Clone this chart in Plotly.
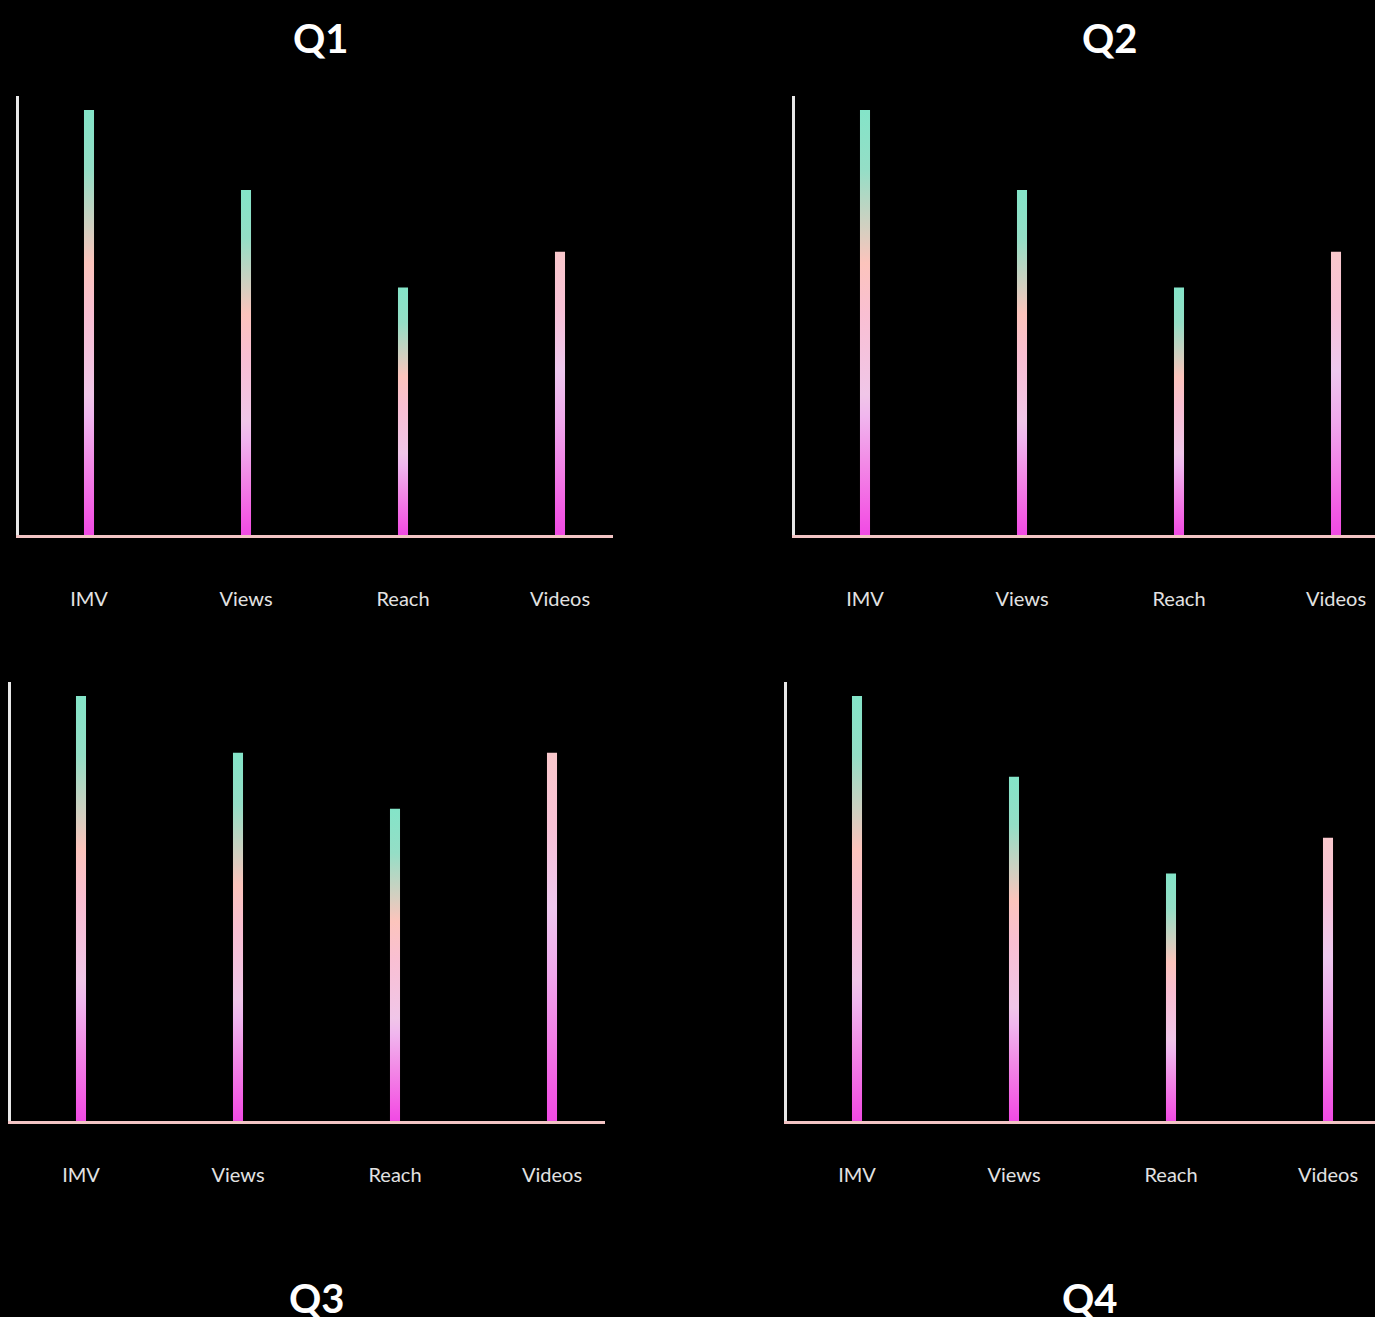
import plotly.graph_objects as go

# ---- data ----
categories = ["IMV", "Views", "Reach", "Videos"]
q1_values = [96.8, 78.6, 56.4, 64.5]
q2_values = [96.8, 78.6, 56.4, 64.5]
q3_values = [96.8, 83.9, 71.1, 83.9]
q4_values = [96.8, 78.4, 56.4, 64.5]
panel_titles = ["Q1", "Q2", "Q3", "Q4"]
panels = [q1_values, q2_values, q3_values, q4_values]

# ---- styles ----
W, H = 1375, 1317
BAR_HALF = 0.032
main_scale = [
    [0.00, "#f04ae4"], [0.05, "#f35ce4"], [0.17, "#f28ae6"], [0.28, "#f0b6ee"],
    [0.33, "#f0c6e8"], [0.52, "#f9bfd2"], [0.64, "#fcc4bc"], [0.72, "#d4cfc0"],
    [0.86, "#94dec6"], [1.00, "#84e4c8"],
]
videos_scale = [
    [0.00, "#f04ae4"], [0.08, "#f25ae4"], [0.22, "#f27ee6"], [0.40, "#f0a8ec"],
    [0.58, "#eec8ee"], [0.80, "#f8c2d6"], [1.00, "#f9c8cc"],
]

# pixel geometry of each panel: (x_left, x_right, y_top, y_bottom)
geoms = [
    (19, 613, 96, 535),
    (795, 1375, 96, 535),
    (11, 605, 682, 1121),
    (787, 1375, 682, 1121),
]
tick_lens = [44, 44, 34, 34]
title_pos = [(321, 38), (1110, 38), (317, 1298), (1090, 1298)]

fig = go.Figure()
SPACING = 157.0
FIRST_OFF = 70.0
YMAX = 100.0

for k, (vals, (xl, xr, yt, yb)) in enumerate(zip(panels, geoms)):
    idx = "" if k == 0 else str(k + 1)
    xa, ya = "x" + idx, "y" + idx
    for i, v in enumerate(vals):
        scale = videos_scale if categories[i] == "Videos" else main_scale
        fig.add_trace(go.Scatter(
            x=[i - BAR_HALF, i - BAR_HALF, i + BAR_HALF, i + BAR_HALF, i - BAR_HALF],
            y=[0, v, v, 0, 0],
            mode="lines", line=dict(width=0),
            fill="toself",
            fillgradient=dict(type="vertical", colorscale=scale),
            hoverinfo="skip", showlegend=False,
            xaxis=xa, yaxis=ya,
        ))
    x0 = -FIRST_OFF / SPACING
    x1 = (xr - xl - FIRST_OFF) / SPACING
    fig.layout["xaxis" + idx] = dict(
        domain=[xl / W, xr / W], anchor=ya, range=[x0, x1],
        tickvals=list(range(len(categories))), ticktext=categories,
        showline=True, linecolor="#f2c4c4", linewidth=3,
        showgrid=False, zeroline=False,
        ticks="outside", ticklen=tick_lens[k], tickcolor="rgba(0,0,0,0)",
        tickfont=dict(family="Lato", size=20, color="#e2e2e2"),
    )
    fig.layout["yaxis" + idx] = dict(
        domain=[1 - yb / H, 1 - yt / H], anchor=xa, range=[0, YMAX],
        showline=True, linecolor="#e8e8e8", linewidth=3,
        showgrid=False, zeroline=False, showticklabels=False, ticks="",
    )
    tx, ty = title_pos[k]
    fig.add_annotation(
        text="<b>" + panel_titles[k] + "</b>", xref="paper", yref="paper",
        x=tx / W, y=1 - ty / H, xanchor="center", yanchor="middle",
        showarrow=False, font=dict(family="Lato", size=40, color="#ffffff"),
    )

fig.update_layout(
    width=W, height=H, margin=dict(l=0, r=0, t=0, b=0),
    paper_bgcolor="#000000", plot_bgcolor="#000000",
)
fig.write_html(
    "out.html",
    config={"displayModeBar": False},
    post_script="document.body.style.margin='0';document.body.style.background='#000';"
                "document.body.style.overflow='hidden';",
)
